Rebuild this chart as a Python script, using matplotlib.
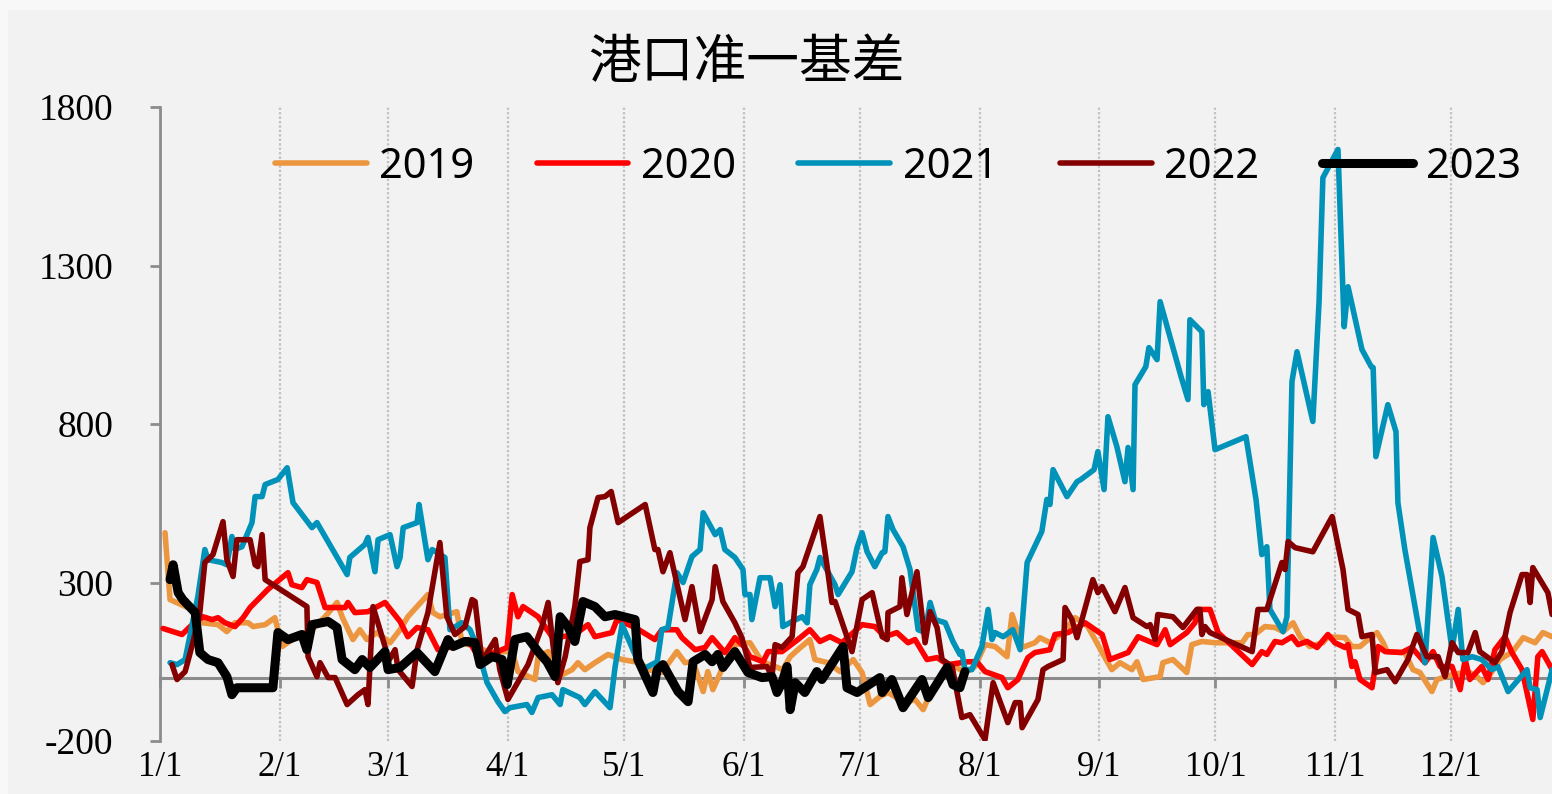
import matplotlib
matplotlib.use("Agg")
import matplotlib.pyplot as plt
from matplotlib.patches import Rectangle
import numpy as np

# ---------------- data (day of year, value) ----------------
month_days = [0, 31, 59, 90, 120, 151, 181, 212, 243, 273, 304, 334]
month_labels = ["1/1", "2/1", "3/1", "4/1", "5/1", "6/1", "7/1", "8/1", "9/1", "10/1", "11/1", "12/1"]
y_ticks = [-200, 300, 800, 1300, 1800]

days_2019 = [1.3, 2.6, 8.3, 10.9, 15.0, 17.3, 19.4, 22.8, 24.1, 27.2,
             29.7, 31.6, 34.9, 39.3, 42.7, 45.8, 47.1, 49.9, 51.7, 53.5,
             56.1, 59.5, 62.1, 64.1, 69.3, 70.6, 72.4, 76.8, 78.1, 81.5,
             84.8, 91.1, 92.6, 97.0, 97.8, 100.4, 104.0, 106.6, 108.1, 109.9,
             112.5, 115.9, 119.5, 124.2, 126.2, 129.8, 133.7, 135.8, 137.9, 140.5,
             141.7, 143.0, 146.1, 148.7, 152.6, 155.7, 159.1, 161.1, 163.0, 165.0,
             168.1, 169.4, 172.8, 175.9, 179.3, 181.6, 183.7, 186.2, 188.3, 192.7,
             195.3, 197.4, 199.7, 203.1, 205.6, 208.2, 210.8, 213.4, 216.0, 219.1,
             220.4, 221.7, 223.0, 226.3, 227.6, 230.2, 233.6, 236.7, 240.0, 243.7,
             246.2, 248.3, 251.4, 252.7, 254.3, 258.7, 259.4, 262.0, 265.6, 266.9,
             269.5, 272.9, 279.9, 281.4, 283.2, 285.8, 288.4, 290.5, 293.1, 294.9,
             297.4, 300.8, 302.1, 306.5, 308.3, 310.4, 312.5, 314.8, 316.4, 317.4,
             322.0, 324.1, 325.9, 329.0, 330.3, 334.2, 338.3, 340.9, 342.2, 343.5,
             346.6, 349.9, 352.6, 355.7, 357.7, 360.1]
vals_2019 = [457, 246, 215, 173, 167, 145, 173, 173, 161, 167,
             189, 98, 126, 151, 192, 237, 192, 120, 151, 120,
             142, 110, 151, 192, 262, 205, 192, 208, 110, 98,
             82, 82, 19, -6, 66, 82, 9, 25, 47, 25,
             47, 73, 57, 47, 25, 16, 82, 47, 50, -44,
             19, -38, 47, 104, 110, 50, 35, 25, 66, 88,
             120, 57, 47, 19, 57, 16, -85, -60, -47, -79,
             -69, -101, -38, 9, 35, 16, 35, 104, 98, 66,
             199, 151, 95, 110, 126, 110, 142, 189, 161, 79,
             25, 47, 25, 50, -6, 3, 47, 57, 16, 104,
             114, 110, 110, 136, 136, 161, 158, 145, 173, 129,
             98, 110, 129, 126, 98, 98, 120, 142, 110, 82,
             79, 25, 16, -44, -6, 9, 19, 0, -16, 0,
             57, 82, 126, 110, 142, 129]

days_2020 = [0.8, 5.7, 7.8, 11.1, 13.5, 15.0, 16.8, 19.4, 21.5, 23.3,
             27.9, 33.1, 34.1, 36.7, 38.0, 40.6, 42.7, 47.9, 48.6, 50.4,
             53.8, 58.2, 62.1, 64.1, 66.5, 69.3, 71.9, 75.8, 79.7, 82.3,
             86.7, 89.8, 91.1, 92.6, 93.9, 97.8, 101.4, 104.0, 107.3, 110.7,
             112.5, 116.9, 118.2, 122.9, 128.0, 129.8, 133.7, 135.0, 138.4, 141.0,
             142.8, 146.1, 148.7, 151.3, 152.6, 156.0, 157.3, 160.9, 165.0, 168.1,
             170.7, 173.3, 176.4, 181.6, 184.9, 187.5, 190.6, 193.5, 195.3, 198.4,
             201.0, 203.8, 209.0, 211.3, 213.4, 217.8, 219.3, 221.9, 224.5, 226.3,
             230.2, 231.5, 234.9, 239.3, 243.7, 245.7, 250.4, 253.0, 257.9, 260.0,
             261.3, 265.6, 267.7, 268.5, 271.6, 273.7, 282.5, 285.0, 286.3, 288.4,
             290.2, 292.8, 294.4, 296.7, 299.3, 302.1, 303.9, 306.5, 307.3, 308.3,
             309.1, 310.4, 313.5, 315.1, 316.9, 321.2, 323.8, 327.2, 329.3, 331.1,
             334.2, 336.3, 337.6, 338.8, 341.9, 343.5, 345.3, 347.9, 349.7, 352.3,
             355.1, 356.4, 357.5, 360.1]
vals_2020 = [155, 136, 161, 192, 183, 189, 173, 161, 189, 221,
             278, 331, 293, 284, 309, 300, 221, 221, 237, 205,
             208, 237, 177, 129, 158, 151, 88, 98, 120, 66,
             79, 95, 262, 192, 224, 192, 129, 129, 136, 167,
             129, 142, 183, 158, 120, 151, 151, 126, 88, 95,
             126, 79, 126, 95, 66, 50, 82, 82, 120, 151,
             114, 129, 110, 167, 161, 129, 142, 110, 120, 57,
             63, 41, 50, 50, 19, 0, -32, -6, 63, 79,
             88, 136, 142, 173, 136, 57, 79, 129, 104, 151,
             104, 142, 173, 215, 215, 142, 41, 82, 73, 114,
             110, 129, 104, 114, 95, 136, 110, 95, 104, 35,
             50, -6, -32, 98, 82, 79, 95, 47, 82, 35,
             35, -38, 57, -6, 35, -6, 88, 129, 79, 25,
             -132, 66, 82, 25]

days_2021 = [2.6, 4.4, 6.5, 9.8, 11.6, 12.4, 16.0, 17.3, 18.6, 19.4,
             21.2, 23.8, 24.6, 26.4, 27.2, 30.5, 32.9, 34.4, 39.3, 40.6,
             48.4, 49.1, 53.0, 53.8, 55.6, 56.4, 59.5, 61.3, 62.1, 62.9,
             66.5, 67.0, 69.3, 70.4, 73.7, 75.0, 78.1, 80.2, 82.0, 84.6,
             87.4, 89.2, 90.5, 94.9, 96.2, 97.8, 101.4, 103.5, 104.2, 108.6,
             109.9, 112.5, 116.4, 117.7, 119.5, 124.2, 124.7, 128.6, 129.8, 131.4,
             133.7, 135.3, 137.6, 139.7, 140.5, 143.6, 144.9, 146.1, 148.7, 150.8,
             151.3, 152.6, 153.1, 155.2, 157.8, 159.1, 160.4, 161.1, 163.5, 166.1,
             167.4, 168.1, 169.9, 170.7, 174.6, 175.4, 179.0, 180.3, 181.6, 182.9,
             184.9, 186.8, 187.5, 188.3, 189.6, 192.2, 194.0, 196.1, 197.9, 199.2,
             200.5, 203.1, 205.1, 206.9, 207.4, 208.2, 210.0, 212.6, 214.2, 215.2,
             216.0, 218.1, 220.6, 222.5, 224.3, 228.1, 229.4, 230.2, 231.0, 234.6,
             237.2, 238.2, 241.6, 242.6, 244.2, 245.2, 247.5, 249.6, 250.4, 251.7,
             252.2, 255.0, 255.8, 257.9, 258.7, 264.1, 265.9, 266.4, 269.5, 270.0,
             271.1, 272.9, 280.9, 283.5, 285.0, 286.3, 287.1, 290.5, 291.5, 292.8,
             294.1, 298.2, 299.8, 300.8, 304.7, 306.3, 307.3, 310.9, 313.3, 313.8,
             314.5, 317.6, 319.7, 320.2, 322.0, 327.2, 329.3, 331.6, 334.2, 335.8,
             337.0, 339.4, 341.9, 344.5, 346.1, 348.7, 353.6, 354.4, 356.2, 357.0,
             360.1]
vals_2021 = [47, 41, 57, 256, 404, 372, 363, 356, 445, 404,
             413, 489, 571, 571, 609, 625, 662, 552, 473, 489,
             325, 379, 420, 442, 334, 435, 451, 350, 379, 473,
             489, 546, 372, 404, 379, 151, 173, 151, 98, -16,
             -76, -107, -95, -85, -110, -63, -54, -85, -38, -63,
             -85, -44, -95, 32, 167, 35, 25, 50, 151, 158,
             331, 300, 382, 404, 520, 451, 467, 404, 379, 341,
             262, 262, 183, 315, 315, 224, 293, 161, 177, 192,
             173, 293, 341, 379, 293, 262, 334, 410, 457, 397,
             350, 394, 397, 508, 467, 413, 341, 151, 142, 237,
             183, 173, 114, 73, 82, 25, 25, 98, 215, 120,
             142, 129, 151, 88, 363, 461, 562, 546, 656, 571,
             618, 625, 656, 713, 593, 823, 729, 618, 726, 593,
             924, 981, 1041, 1003, 1186, 950, 877, 1129, 1091, 861,
             902, 719, 760, 562, 388, 413, 215, 145, 192, 934,
             1028, 808, 1183, 1577, 1666, 1107, 1233, 1035, 981, 978,
             697, 861, 776, 552, 404, 47, 442, 319, 88, 215,
             57, 66, 57, 25, 35, -44, 25, -32, -38, -126,
             25]

days_2022 = [3.1, 4.4, 6.5, 8.5, 10.3, 11.6, 13.7, 16.3, 17.3, 18.9,
             19.9, 23.3, 24.6, 25.3, 26.4, 27.2, 38.0, 38.3, 40.6, 41.4,
             43.5, 45.3, 48.4, 51.2, 53.0, 53.8, 55.1, 58.2, 59.0, 60.8,
             61.6, 65.2, 66.5, 69.3, 72.4, 74.2, 76.3, 78.9, 80.7, 81.5,
             83.3, 84.8, 86.7, 87.9, 90.0, 95.2, 98.8, 100.4, 101.7, 102.9,
             104.8, 107.3, 108.6, 110.7, 111.2, 113.3, 115.1, 116.7, 118.5, 125.5,
             128.0, 128.8, 130.1, 131.9, 135.8, 137.6, 139.7, 142.8, 143.6, 145.6,
             148.7, 150.5, 152.6, 157.0, 158.3, 159.1, 160.9, 163.5, 165.0, 166.3,
             170.7, 172.5, 173.8, 174.6, 179.0, 181.6, 184.2, 186.8, 188.1, 188.3,
             191.4, 191.9, 193.2, 195.8, 197.9, 199.2, 201.0, 202.3, 204.9, 207.4,
             209.5, 213.4, 215.5, 219.3, 221.2, 222.5, 223.0, 227.1, 228.4, 229.7,
             233.6, 234.1, 235.9, 237.2, 241.3, 242.6, 243.7, 247.0, 249.6, 251.7,
             255.3, 256.1, 257.4, 258.1, 262.0, 264.6, 268.2, 269.0, 269.5, 270.3,
             271.6, 282.5, 284.0, 286.3, 290.2, 291.0, 291.8, 293.6, 298.2, 303.2,
             306.0, 307.3, 309.9, 310.9, 313.5, 314.3, 317.4, 319.5, 322.8, 325.1,
             327.7, 330.6, 332.4, 334.2, 335.8, 338.3, 340.2, 341.4, 345.3, 347.1,
             349.2, 352.3, 353.6, 354.4, 355.1, 359.0, 360.1]
vals_2022 = [41, -6, 19, 110, 205, 363, 388, 492, 372, 319,
             435, 435, 356, 350, 451, 309, 224, 66, 3, 47,
             0, 0, -85, -54, -38, -85, 224, 98, 50, 88,
             25, -28, 88, 205, 426, 192, 136, 161, 246, 240,
             50, 82, 120, 25, -69, 41, 161, 237, 98, -16,
             66, 224, 366, 372, 473, 568, 571, 587, 489, 546,
             404, 404, 334, 394, 183, 287, 145, 246, 350, 240,
             173, 126, 32, 35, 3, 104, 95, 129, 331, 350,
             508, 356, 237, 240, 82, 246, 268, 129, 120, 205,
             224, 315, 199, 334, 110, 208, 158, 57, 35, -126,
             -117, -196, -16, -142, -79, -79, -158, -69, 25, 35,
             57, 221, 183, 126, 309, 268, 287, 208, 284, 189,
             161, 167, 120, 199, 192, 158, 215, 215, 136, 161,
             142, 82, 215, 215, 363, 341, 429, 410, 397, 508,
             341, 215, 199, 129, 136, 16, 25, -13, 57, 136,
             66, 66, 3, 110, 79, 79, 142, 82, 47, 82,
             205, 325, 325, 237, 347, 268, 199]

days_2023 = [2.6, 3.4, 4.7, 5.9, 9.1, 10.3, 12.4, 15.0, 17.3, 18.6,
             19.9, 29.2, 30.5, 33.1, 36.7, 38.0, 39.3, 43.5, 45.8, 47.1,
             50.4, 52.3, 54.3, 58.2, 59.0, 62.1, 66.5, 71.1, 74.5, 75.8,
             78.9, 81.5, 82.8, 85.9, 88.5, 89.8, 91.8, 94.9, 97.8, 100.1,
             102.2, 103.5, 105.5, 107.3, 109.4, 112.5, 115.1, 117.7, 122.9, 123.6,
             127.5, 128.6, 130.1, 134.0, 136.6, 137.9, 141.0, 142.8, 144.3, 145.6,
             148.7, 152.1, 155.7, 158.3, 159.6, 160.9, 162.2, 163.0, 164.3, 166.8,
             169.9, 171.2, 176.7, 177.7, 180.3, 186.2, 186.8, 189.3, 192.2, 197.1,
             198.7, 203.6, 205.1, 206.9, 208.2]
vals_2023 = [309, 356, 268, 246, 205, 79, 57, 47, 3, -54,
             -32, -32, 142, 120, 136, 88, 167, 177, 158, 57,
             25, 57, 32, 82, 25, 32, 79, 19, 120, 98,
             114, 110, 41, 66, 57, -22, 120, 129, 82, 50,
             3, 192, 161, 114, 240, 224, 192, 199, 183, 57,
             -47, 25, 41, -44, -76, 50, 73, 50, 73, 32,
             82, 16, 0, 3, -47, -16, 35, -101, -16, -47,
             19, -6, 98, -32, -47, 0, -47, -6, -95, -6,
             -63, 32, -22, -32, 19]

series = [
    ("2019", days_2019, vals_2019, "#ED9640", 4.0),
    ("2020", days_2020, vals_2020, "#FF0000", 4.0),
    ("2021", days_2021, vals_2021, "#0092B8", 4.0),
    ("2022", days_2022, vals_2022, "#840000", 4.0),
    ("2023", days_2023, vals_2023, "#000000", 6.5),
]

# ---------------- figure ----------------
W, H = 1552, 794
fig = plt.figure(figsize=(W / 100, H / 100), dpi=100)
fig.patch.set_facecolor("#f8f8f8")
fig.add_artist(Rectangle((8 / W, 0), 1, 1 - 10 / H, transform=fig.transFigure,
                         facecolor="#f2f2f2", edgecolor="none", zorder=0))

ax = fig.add_axes([160 / W, 53 / H, 365 * 3.866 / W, 634 / H])
ax.set_facecolor("none")
ax.set_xlim(0, 365)
ax.set_ylim(-200, 1800)

grey = "#8c8c8c"
for s in ["top", "right"]:
    ax.spines[s].set_visible(False)
ax.spines["left"].set_color(grey)
ax.spines["left"].set_linewidth(2.0)
ax.spines["bottom"].set_position(("data", 0))
ax.spines["bottom"].set_color(grey)
ax.spines["bottom"].set_linewidth(2.2)

ax.set_yticks(y_ticks)
ax.set_yticklabels([str(v) for v in y_ticks], fontfamily="Liberation Serif", fontsize=27)
ax.tick_params(axis="y", direction="out", length=7.5, width=2, color=grey, pad=26)

ax.set_xticks(month_days)
ax.tick_params(axis="x", direction="out", length=7, width=2, color=grey, labelbottom=False)
ax.grid(axis="x", linestyle=(0, (1, 1)), color="#c0c0c0", linewidth=1.6)
ax.set_axisbelow(True)

sec = ax.secondary_xaxis(0)
sec.set_xticks(month_days)
sec.set_xticklabels(month_labels, fontfamily="Liberation Serif", fontsize=25)
sec.tick_params(length=0, pad=7)
sec.spines["bottom"].set_visible(False)

handles = []
for i, (name, d, v, c, lw) in enumerate(series):
    h, = ax.plot(d, v, color=c, linewidth=lw, solid_joinstyle="round",
                 solid_capstyle="round", zorder=3 + i, label=name)
    handles.append(h)

fig.legend(handles=handles, loc="center", bbox_to_anchor=(898 / W, 1 - 167 / H),
           ncol=5, frameon=False, handlelength=2.2, handletextpad=0.3,
           columnspacing=1.5, prop={"family": "Noto Sans", "size": 30})

fig.text(746 / W, 1 - 62 / H, "港口准一基差", ha="center", va="center",
         fontsize=38, family=["Noto Sans CJK SC", "DejaVu Sans"])

fig.savefig("out.png", dpi=100, facecolor=fig.get_facecolor())
